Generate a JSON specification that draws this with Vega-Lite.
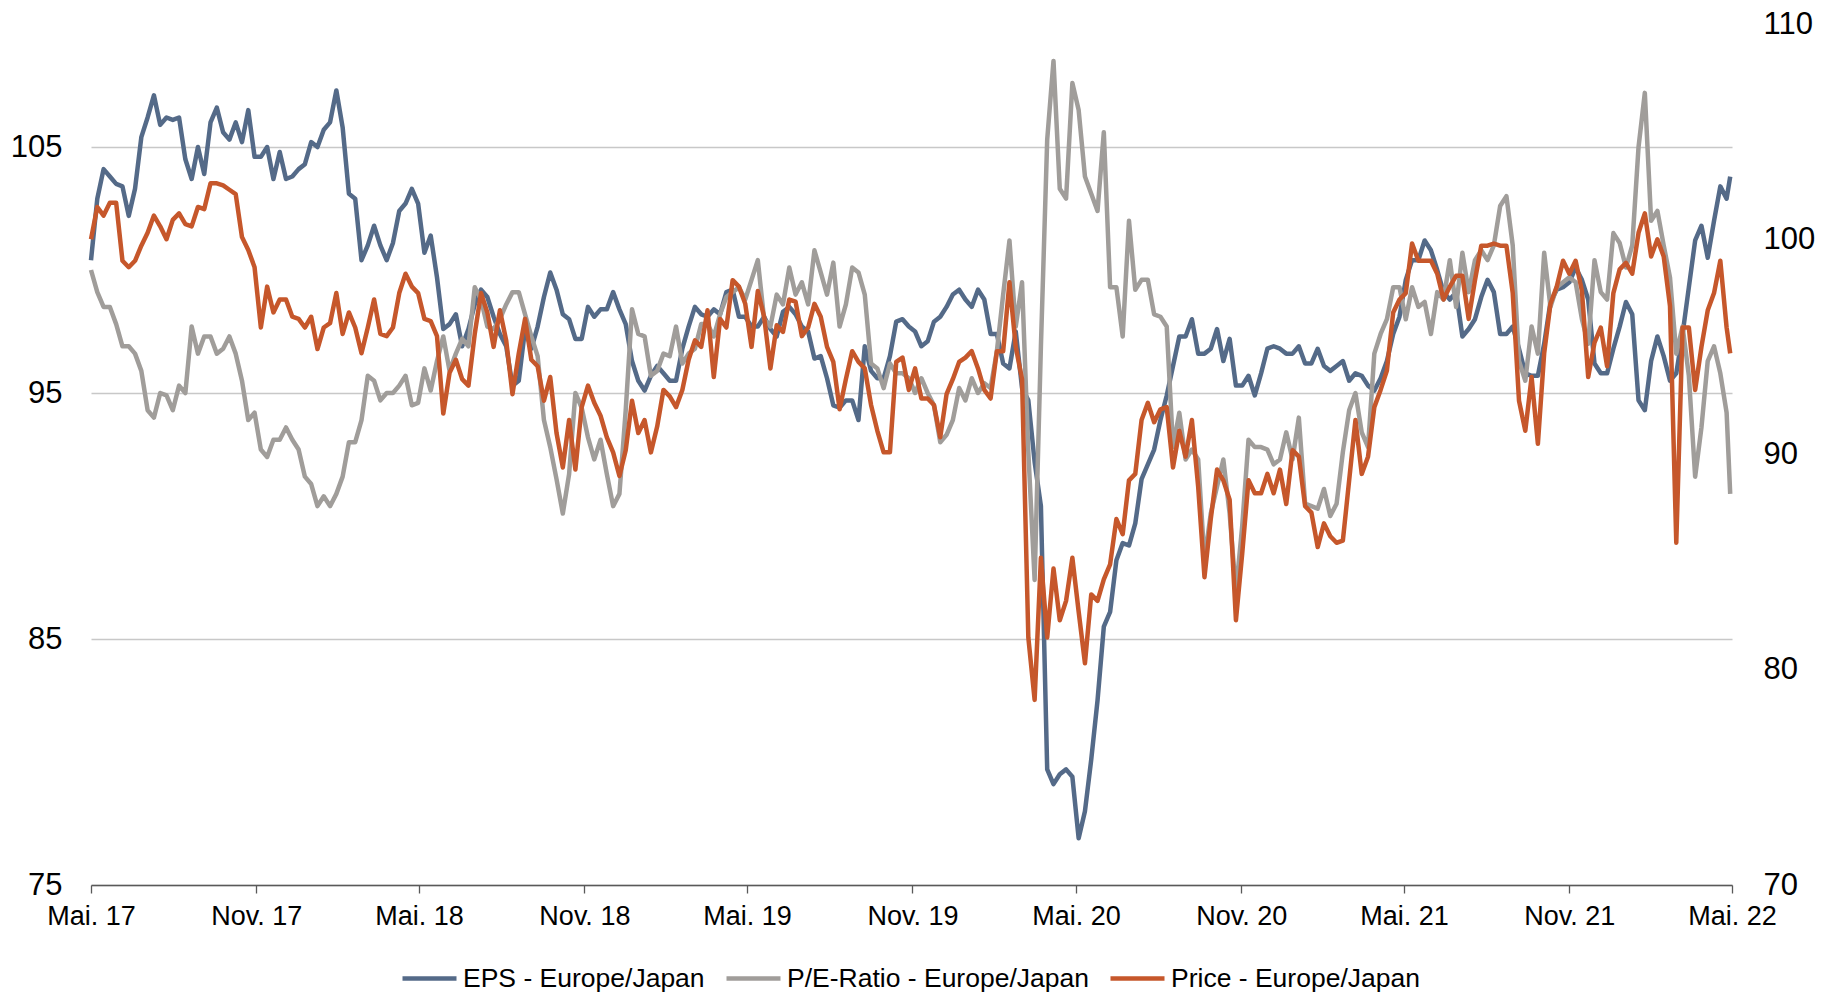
{
"$schema":"https://vega.github.io/schema/vega-lite/v6.json",
"width":1641,"height":861,
"autosize":{"type":"none"},
"padding":{"left":91,"top":24,"right":99,"bottom":111},
"background":"white",
"config":{"font":"Liberation Sans","view":{"stroke":null},"axis":{"labelFont":"Liberation Sans","labelColor":"#000000"},"legend":{"labelFont":"Liberation Sans","labelColor":"#000000"}},
"data":{"values":[
{"d":"2017-05-01","e":100.4,"p":100.0,"r":100.0},
{"d":"2017-05-08","e":102.9,"p":99.1,"r":101.5},
{"d":"2017-05-15","e":104.1,"p":98.5,"r":101.1},
{"d":"2017-05-22","e":103.8,"p":98.5,"r":101.7},
{"d":"2017-05-29","e":103.5,"p":97.8,"r":101.7},
{"d":"2017-06-05","e":103.4,"p":96.9,"r":99.0},
{"d":"2017-06-12","e":102.2,"p":96.9,"r":98.7},
{"d":"2017-06-19","e":103.3,"p":96.6,"r":99.0},
{"d":"2017-06-26","e":105.4,"p":95.9,"r":99.7},
{"d":"2017-07-03","e":106.2,"p":94.3,"r":100.3},
{"d":"2017-07-10","e":107.1,"p":94.0,"r":101.1},
{"d":"2017-07-17","e":105.9,"p":95.0,"r":100.6},
{"d":"2017-07-24","e":106.2,"p":94.9,"r":100.0},
{"d":"2017-07-31","e":106.1,"p":94.3,"r":100.9},
{"d":"2017-08-07","e":106.2,"p":95.3,"r":101.2},
{"d":"2017-08-14","e":104.5,"p":95.0,"r":100.7},
{"d":"2017-08-21","e":103.7,"p":97.7,"r":100.6},
{"d":"2017-08-28","e":105.0,"p":96.6,"r":101.5},
{"d":"2017-09-04","e":103.9,"p":97.3,"r":101.4},
{"d":"2017-09-11","e":106.0,"p":97.3,"r":102.6},
{"d":"2017-09-18","e":106.6,"p":96.6,"r":102.6},
{"d":"2017-09-25","e":105.6,"p":96.8,"r":102.5},
{"d":"2017-10-02","e":105.3,"p":97.3,"r":102.3},
{"d":"2017-10-09","e":106.0,"p":96.6,"r":102.1},
{"d":"2017-10-16","e":105.2,"p":95.5,"r":100.1},
{"d":"2017-10-23","e":106.5,"p":93.9,"r":99.5},
{"d":"2017-10-30","e":104.6,"p":94.2,"r":98.7},
{"d":"2017-11-06","e":104.6,"p":92.7,"r":95.9},
{"d":"2017-11-13","e":105.0,"p":92.4,"r":97.8},
{"d":"2017-11-20","e":103.7,"p":93.1,"r":96.6},
{"d":"2017-11-27","e":104.8,"p":93.1,"r":97.2},
{"d":"2017-12-04","e":103.7,"p":93.6,"r":97.2},
{"d":"2017-12-11","e":103.8,"p":93.1,"r":96.4},
{"d":"2017-12-18","e":104.1,"p":92.7,"r":96.3},
{"d":"2017-12-25","e":104.3,"p":91.6,"r":95.9},
{"d":"2018-01-01","e":105.2,"p":91.3,"r":96.4},
{"d":"2018-01-08","e":105.0,"p":90.4,"r":94.9},
{"d":"2018-01-15","e":105.7,"p":90.8,"r":95.9},
{"d":"2018-01-22","e":106.0,"p":90.4,"r":96.1},
{"d":"2018-01-29","e":107.3,"p":90.9,"r":97.5},
{"d":"2018-02-05","e":105.8,"p":91.6,"r":95.6},
{"d":"2018-02-12","e":103.1,"p":93.0,"r":96.6},
{"d":"2018-02-19","e":102.9,"p":93.0,"r":95.9},
{"d":"2018-02-26","e":100.4,"p":93.9,"r":94.7},
{"d":"2018-03-05","e":101.0,"p":95.7,"r":95.9},
{"d":"2018-03-12","e":101.8,"p":95.5,"r":97.2},
{"d":"2018-03-19","e":101.0,"p":94.7,"r":95.6},
{"d":"2018-03-26","e":100.4,"p":95.0,"r":95.5},
{"d":"2018-04-02","e":101.1,"p":95.0,"r":95.9},
{"d":"2018-04-09","e":102.4,"p":95.3,"r":97.5},
{"d":"2018-04-16","e":102.7,"p":95.7,"r":98.4},
{"d":"2018-04-23","e":103.3,"p":94.5,"r":97.8},
{"d":"2018-04-30","e":102.7,"p":94.6,"r":97.5},
{"d":"2018-05-07","e":100.7,"p":96.0,"r":96.3},
{"d":"2018-05-14","e":101.4,"p":95.1,"r":96.2},
{"d":"2018-05-21","e":99.7,"p":96.3,"r":95.5},
{"d":"2018-05-28","e":97.6,"p":97.3,"r":91.9},
{"d":"2018-06-04","e":97.8,"p":95.9,"r":93.8},
{"d":"2018-06-11","e":98.2,"p":96.6,"r":94.4},
{"d":"2018-06-18","e":96.9,"p":97.2,"r":93.5},
{"d":"2018-06-25","e":97.6,"p":96.9,"r":93.2},
{"d":"2018-07-02","e":98.6,"p":99.3,"r":95.6},
{"d":"2018-07-09","e":99.2,"p":98.8,"r":97.5},
{"d":"2018-07-16","e":98.9,"p":97.7,"r":96.6},
{"d":"2018-07-23","e":98.1,"p":97.6,"r":95.0},
{"d":"2018-07-30","e":97.4,"p":98.0,"r":96.7},
{"d":"2018-08-06","e":96.9,"p":98.6,"r":95.3},
{"d":"2018-08-13","e":95.3,"p":99.1,"r":92.8},
{"d":"2018-08-20","e":95.5,"p":99.1,"r":94.7},
{"d":"2018-08-27","e":97.6,"p":98.2,"r":96.3},
{"d":"2018-09-03","e":96.8,"p":97.3,"r":94.4},
{"d":"2018-09-10","e":97.7,"p":96.5,"r":94.1},
{"d":"2018-09-17","e":98.9,"p":93.9,"r":92.5},
{"d":"2018-09-24","e":99.9,"p":92.8,"r":93.6},
{"d":"2018-10-01","e":99.2,"p":91.5,"r":91.0},
{"d":"2018-10-08","e":98.2,"p":90.1,"r":89.4},
{"d":"2018-10-15","e":98.0,"p":91.7,"r":91.6},
{"d":"2018-10-22","e":97.2,"p":95.0,"r":89.3},
{"d":"2018-10-29","e":97.2,"p":94.4,"r":92.2},
{"d":"2018-11-05","e":98.5,"p":93.2,"r":93.2},
{"d":"2018-11-12","e":98.1,"p":92.3,"r":92.4},
{"d":"2018-11-19","e":98.4,"p":93.1,"r":91.8},
{"d":"2018-11-26","e":98.4,"p":91.7,"r":90.8},
{"d":"2018-12-03","e":99.1,"p":90.4,"r":90.1},
{"d":"2018-12-10","e":98.4,"p":90.9,"r":89.0},
{"d":"2018-12-17","e":97.8,"p":94.3,"r":90.2},
{"d":"2018-12-24","e":96.3,"p":98.4,"r":92.5},
{"d":"2018-12-31","e":95.5,"p":97.4,"r":91.0},
{"d":"2019-01-07","e":95.1,"p":97.3,"r":91.6},
{"d":"2019-01-14","e":95.7,"p":95.7,"r":90.1},
{"d":"2019-01-21","e":96.1,"p":95.9,"r":91.3},
{"d":"2019-01-28","e":95.8,"p":96.6,"r":93.0},
{"d":"2019-02-04","e":95.5,"p":96.5,"r":92.7},
{"d":"2019-02-11","e":95.5,"p":97.7,"r":92.2},
{"d":"2019-02-18","e":96.8,"p":96.2,"r":93.0},
{"d":"2019-02-25","e":97.7,"p":96.6,"r":94.4},
{"d":"2019-03-04","e":98.5,"p":96.8,"r":95.3},
{"d":"2019-03-11","e":98.2,"p":97.8,"r":95.0},
{"d":"2019-03-18","e":98.1,"p":97.8,"r":96.7},
{"d":"2019-03-25","e":98.4,"p":97.3,"r":93.6},
{"d":"2019-04-01","e":98.2,"p":98.2,"r":96.3},
{"d":"2019-04-08","e":99.1,"p":98.9,"r":95.9},
{"d":"2019-04-15","e":99.2,"p":99.1,"r":98.1},
{"d":"2019-04-22","e":98.1,"p":99.3,"r":97.8},
{"d":"2019-04-29","e":98.1,"p":98.8,"r":97.0},
{"d":"2019-05-06","e":97.7,"p":99.6,"r":95.0},
{"d":"2019-05-13","e":97.7,"p":100.4,"r":97.6},
{"d":"2019-05-20","e":98.1,"p":98.0,"r":96.4},
{"d":"2019-05-27","e":97.6,"p":97.7,"r":94.0},
{"d":"2019-06-03","e":97.3,"p":99.0,"r":96.0},
{"d":"2019-06-10","e":98.3,"p":98.6,"r":95.7},
{"d":"2019-06-17","e":98.5,"p":100.1,"r":97.2},
{"d":"2019-06-24","e":98.2,"p":99.0,"r":97.1},
{"d":"2019-07-01","e":97.7,"p":99.5,"r":95.5},
{"d":"2019-07-08","e":97.5,"p":98.6,"r":95.9},
{"d":"2019-07-15","e":96.4,"p":100.8,"r":97.0},
{"d":"2019-07-22","e":96.5,"p":99.9,"r":96.4},
{"d":"2019-07-29","e":95.6,"p":99.0,"r":95.0},
{"d":"2019-08-05","e":94.5,"p":100.3,"r":94.3},
{"d":"2019-08-12","e":94.4,"p":97.7,"r":92.1},
{"d":"2019-08-19","e":94.7,"p":98.6,"r":93.5},
{"d":"2019-08-26","e":94.7,"p":100.1,"r":94.8},
{"d":"2019-09-02","e":93.9,"p":99.9,"r":94.3},
{"d":"2019-09-09","e":96.9,"p":99.0,"r":94.0},
{"d":"2019-09-16","e":95.9,"p":96.2,"r":92.3},
{"d":"2019-09-23","e":95.6,"p":96.0,"r":91.1},
{"d":"2019-09-30","e":95.6,"p":95.2,"r":90.1},
{"d":"2019-10-07","e":96.5,"p":96.2,"r":90.1},
{"d":"2019-10-14","e":97.9,"p":95.8,"r":94.3},
{"d":"2019-10-21","e":98.0,"p":95.8,"r":94.5},
{"d":"2019-10-28","e":97.7,"p":95.6,"r":93.0},
{"d":"2019-11-04","e":97.5,"p":95.0,"r":94.0},
{"d":"2019-11-11","e":96.9,"p":95.6,"r":92.6},
{"d":"2019-11-18","e":97.1,"p":95.0,"r":92.6},
{"d":"2019-11-25","e":97.9,"p":94.5,"r":92.3},
{"d":"2019-12-02","e":98.1,"p":93.0,"r":90.8},
{"d":"2019-12-09","e":98.5,"p":93.3,"r":92.8},
{"d":"2019-12-16","e":99.0,"p":93.9,"r":93.5},
{"d":"2019-12-23","e":99.2,"p":95.2,"r":94.3},
{"d":"2019-12-30","e":98.8,"p":94.7,"r":94.5},
{"d":"2020-01-06","e":98.5,"p":95.6,"r":94.8},
{"d":"2020-01-13","e":99.2,"p":95.0,"r":94.0},
{"d":"2020-01-20","e":98.8,"p":95.4,"r":93.0},
{"d":"2020-01-27","e":97.4,"p":95.2,"r":92.6},
{"d":"2020-02-03","e":97.4,"p":96.7,"r":94.8},
{"d":"2020-02-10","e":96.2,"p":99.0,"r":94.8},
{"d":"2020-02-17","e":96.0,"p":101.2,"r":98.0},
{"d":"2020-02-24","e":97.5,"p":97.7,"r":95.0},
{"d":"2020-03-02","e":95.2,"p":99.5,"r":93.5},
{"d":"2020-03-09","e":94.7,"p":92.6,"r":81.5},
{"d":"2020-03-16","e":92.2,"p":87.4,"r":78.6},
{"d":"2020-03-23","e":90.4,"p":96.9,"r":85.2},
{"d":"2020-03-30","e":79.7,"p":105.3,"r":81.5},
{"d":"2020-04-06","e":79.1,"p":108.5,"r":84.7},
{"d":"2020-04-13","e":79.5,"p":103.3,"r":82.3},
{"d":"2020-04-20","e":79.7,"p":102.9,"r":83.2},
{"d":"2020-04-27","e":79.4,"p":107.6,"r":85.2},
{"d":"2020-05-04","e":76.9,"p":106.5,"r":82.7},
{"d":"2020-05-11","e":78.0,"p":103.8,"r":80.3},
{"d":"2020-05-18","e":80.1,"p":103.1,"r":83.5},
{"d":"2020-05-25","e":82.5,"p":102.4,"r":83.2},
{"d":"2020-06-01","e":85.5,"p":105.6,"r":84.2},
{"d":"2020-06-08","e":86.1,"p":99.3,"r":84.9},
{"d":"2020-06-15","e":88.2,"p":99.3,"r":87.0},
{"d":"2020-06-22","e":88.9,"p":97.3,"r":86.3},
{"d":"2020-06-29","e":88.8,"p":102.0,"r":88.8},
{"d":"2020-07-06","e":89.7,"p":99.2,"r":89.1},
{"d":"2020-07-13","e":91.5,"p":99.6,"r":91.6},
{"d":"2020-07-20","e":92.1,"p":99.6,"r":92.4},
{"d":"2020-07-27","e":92.7,"p":98.2,"r":91.5},
{"d":"2020-08-03","e":93.9,"p":98.1,"r":92.1},
{"d":"2020-08-10","e":94.9,"p":97.7,"r":92.2},
{"d":"2020-08-17","e":96.1,"p":92.8,"r":89.4},
{"d":"2020-08-24","e":97.3,"p":94.2,"r":91.1},
{"d":"2020-08-31","e":97.3,"p":92.3,"r":89.9},
{"d":"2020-09-07","e":98.0,"p":92.7,"r":91.6},
{"d":"2020-09-14","e":96.6,"p":92.3,"r":88.5},
{"d":"2020-09-21","e":96.6,"p":88.2,"r":84.3},
{"d":"2020-09-28","e":96.8,"p":90.1,"r":87.0},
{"d":"2020-10-05","e":97.6,"p":91.2,"r":89.3},
{"d":"2020-10-12","e":96.3,"p":92.3,"r":88.8},
{"d":"2020-10-19","e":97.2,"p":90.1,"r":87.9},
{"d":"2020-10-26","e":95.3,"p":86.9,"r":82.3},
{"d":"2020-11-02","e":95.3,"p":89.6,"r":85.4},
{"d":"2020-11-09","e":95.7,"p":93.1,"r":88.8},
{"d":"2020-11-16","e":94.9,"p":92.8,"r":88.2},
{"d":"2020-11-23","e":95.8,"p":92.8,"r":88.2},
{"d":"2020-11-30","e":96.8,"p":92.7,"r":89.1},
{"d":"2020-12-07","e":96.9,"p":92.1,"r":88.2},
{"d":"2020-12-14","e":96.8,"p":92.3,"r":89.3},
{"d":"2020-12-21","e":96.6,"p":93.4,"r":87.7},
{"d":"2020-12-28","e":96.6,"p":92.3,"r":90.2},
{"d":"2021-01-04","e":96.9,"p":94.0,"r":89.9},
{"d":"2021-01-11","e":96.2,"p":90.5,"r":87.6},
{"d":"2021-01-18","e":96.2,"p":90.4,"r":87.3},
{"d":"2021-01-25","e":96.8,"p":90.3,"r":85.7},
{"d":"2021-02-01","e":96.1,"p":91.1,"r":86.8},
{"d":"2021-02-08","e":95.9,"p":90.0,"r":86.2},
{"d":"2021-02-15","e":96.1,"p":90.5,"r":85.9},
{"d":"2021-02-22","e":96.3,"p":92.6,"r":86.0},
{"d":"2021-03-01","e":95.5,"p":94.3,"r":88.8},
{"d":"2021-03-08","e":95.8,"p":95.0,"r":91.6},
{"d":"2021-03-15","e":95.7,"p":93.4,"r":89.1},
{"d":"2021-03-22","e":95.3,"p":92.8,"r":89.9},
{"d":"2021-03-29","e":95.1,"p":96.6,"r":92.2},
{"d":"2021-04-05","e":95.6,"p":97.4,"r":93.0},
{"d":"2021-04-12","e":96.3,"p":98.0,"r":93.9},
{"d":"2021-04-19","e":97.4,"p":99.3,"r":96.6},
{"d":"2021-04-26","e":98.1,"p":99.3,"r":97.2},
{"d":"2021-05-03","e":99.6,"p":98.0,"r":97.5},
{"d":"2021-05-10","e":100.4,"p":99.3,"r":99.8},
{"d":"2021-05-17","e":100.4,"p":98.5,"r":99.0},
{"d":"2021-05-24","e":101.2,"p":98.7,"r":99.0},
{"d":"2021-05-31","e":100.8,"p":97.4,"r":99.0},
{"d":"2021-06-07","e":100.0,"p":99.1,"r":98.4},
{"d":"2021-06-14","e":99.1,"p":98.8,"r":97.2},
{"d":"2021-06-21","e":98.8,"p":100.4,"r":97.8},
{"d":"2021-06-28","e":99.1,"p":98.5,"r":98.3},
{"d":"2021-07-05","e":97.3,"p":100.7,"r":98.3},
{"d":"2021-07-12","e":97.6,"p":99.1,"r":96.3},
{"d":"2021-07-19","e":98.0,"p":100.4,"r":98.1},
{"d":"2021-07-26","e":98.9,"p":100.8,"r":99.7},
{"d":"2021-08-02","e":99.6,"p":100.4,"r":99.7},
{"d":"2021-08-09","e":99.1,"p":101.0,"r":99.8},
{"d":"2021-08-16","e":97.4,"p":102.6,"r":99.7},
{"d":"2021-08-23","e":97.4,"p":103.0,"r":99.7},
{"d":"2021-08-30","e":97.7,"p":101.0,"r":97.5},
{"d":"2021-09-06","e":96.8,"p":96.3,"r":92.5},
{"d":"2021-09-13","e":95.8,"p":95.5,"r":91.1},
{"d":"2021-09-20","e":95.7,"p":97.7,"r":93.6},
{"d":"2021-09-27","e":95.7,"p":96.6,"r":90.5},
{"d":"2021-10-04","e":97.0,"p":100.7,"r":94.7},
{"d":"2021-10-11","e":98.7,"p":98.5,"r":97.0},
{"d":"2021-10-18","e":99.2,"p":99.3,"r":97.8},
{"d":"2021-10-25","e":99.3,"p":99.5,"r":99.0},
{"d":"2021-11-01","e":99.5,"p":99.7,"r":98.4},
{"d":"2021-11-08","e":100.1,"p":99.5,"r":99.0},
{"d":"2021-11-15","e":99.6,"p":98.0,"r":97.6},
{"d":"2021-11-22","e":98.8,"p":97.0,"r":93.6},
{"d":"2021-11-29","e":96.2,"p":100.4,"r":95.2},
{"d":"2021-12-06","e":95.8,"p":99.1,"r":95.9},
{"d":"2021-12-13","e":95.8,"p":98.8,"r":94.1},
{"d":"2021-12-20","e":96.8,"p":101.5,"r":97.5},
{"d":"2021-12-27","e":97.7,"p":101.1,"r":98.6},
{"d":"2022-01-03","e":98.7,"p":100.1,"r":98.9},
{"d":"2022-01-10","e":98.2,"p":101.0,"r":98.4},
{"d":"2022-01-17","e":94.7,"p":105.0,"r":100.3},
{"d":"2022-01-24","e":94.3,"p":107.2,"r":101.2},
{"d":"2022-01-31","e":96.3,"p":102.0,"r":99.2},
{"d":"2022-02-07","e":97.3,"p":102.4,"r":100.0},
{"d":"2022-02-14","e":96.5,"p":101.0,"r":99.2},
{"d":"2022-02-21","e":95.5,"p":99.7,"r":96.9},
{"d":"2022-02-28","e":95.8,"p":96.6,"r":85.9},
{"d":"2022-03-07","e":97.4,"p":97.7,"r":95.9},
{"d":"2022-03-14","e":99.3,"p":95.7,"r":95.9},
{"d":"2022-03-21","e":101.2,"p":91.6,"r":93.0},
{"d":"2022-03-28","e":101.8,"p":93.6,"r":95.0},
{"d":"2022-04-04","e":100.5,"p":96.3,"r":96.7},
{"d":"2022-04-11","e":102.0,"p":96.9,"r":97.5},
{"d":"2022-04-18","e":103.4,"p":95.8,"r":99.0},
{"d":"2022-04-25","e":102.9,"p":94.2,"r":95.9},
{"d":"2022-04-29","e":103.8,"p":90.9,"r":94.7}
]},
"encoding":{
"x":{"field":"d","type":"temporal","scale":{"type":"utc","domain":[{"year":2017,"month":5,"date":1,"utc":true},{"year":2022,"month":5,"date":1,"utc":true}]},
"axis":{"title":null,"grid":false,"values":[{"year":2017,"month":5,"date":1,"utc":true},{"year":2017,"month":11,"date":1,"utc":true},{"year":2018,"month":5,"date":1,"utc":true},{"year":2018,"month":11,"date":1,"utc":true},{"year":2019,"month":5,"date":1,"utc":true},{"year":2019,"month":11,"date":1,"utc":true},{"year":2020,"month":5,"date":1,"utc":true},{"year":2020,"month":11,"date":1,"utc":true},{"year":2021,"month":5,"date":1,"utc":true},{"year":2021,"month":11,"date":1,"utc":true},{"year":2022,"month":5,"date":1,"utc":true}],
"labelExpr":"(utcmonth(datum.value)==4 ? 'Mai. ' : 'Nov. ') + utcFormat(datum.value, '%y')",
"labelFontSize":27,"labelPadding":10,"tickSize":8,"tickColor":"#595959","domainColor":"#595959","domainWidth":1.3,"tickWidth":1.3,"labelAngle":0,"labelOverlap":false,"labelFlush":false}}
},
"layer":[
{"transform":[{"fold":["e","p"],"as":["k","v"]}],
"mark":{"type":"line","strokeWidth":4.5,"strokeJoin":"round"},
"encoding":{
"y":{"field":"v","type":"quantitative","scale":{"domain":[75,110],"nice":false,"zero":false},
"axis":{"title":null,"values":[75,85,95,105],"grid":true,"gridColor":"#c8c8c8","gridWidth":1.3,"domain":false,"ticks":false,"labelPadding":29,"labelFontSize":31,"orient":"left"}},
"color":{"field":"k","type":"nominal","scale":{"domain":["e","p","r"],"range":["#546A88","#A09D9A","#C6572B"]},
"legend":{"title":null,"orient":"none","legendX":309,"legendY":925,"direction":"horizontal","symbolType":"stroke","symbolSize":2916,"symbolStrokeWidth":4.5,"labelFontSize":26.5,"labelOffset":4,"columnPadding":12,"labelLimit":500,
"labelExpr":"datum.label == 'e' ? 'EPS - Europe/Japan' : (datum.label == 'p' ? 'P/E-Ratio - Europe/Japan' : 'Price - Europe/Japan')"}}
}},
{"mark":{"type":"line","strokeWidth":4.5,"strokeJoin":"round"},
"encoding":{
"y":{"field":"r","type":"quantitative","scale":{"domain":[70,110],"nice":false,"zero":false},
"axis":{"title":null,"values":[70,80,90,100,110],"grid":false,"domain":false,"ticks":false,"labelPadding":31,"labelFontSize":31,"orient":"right"}},
"color":{"datum":"r"}
}}
],
"resolve":{"scale":{"y":"independent"}}
}
